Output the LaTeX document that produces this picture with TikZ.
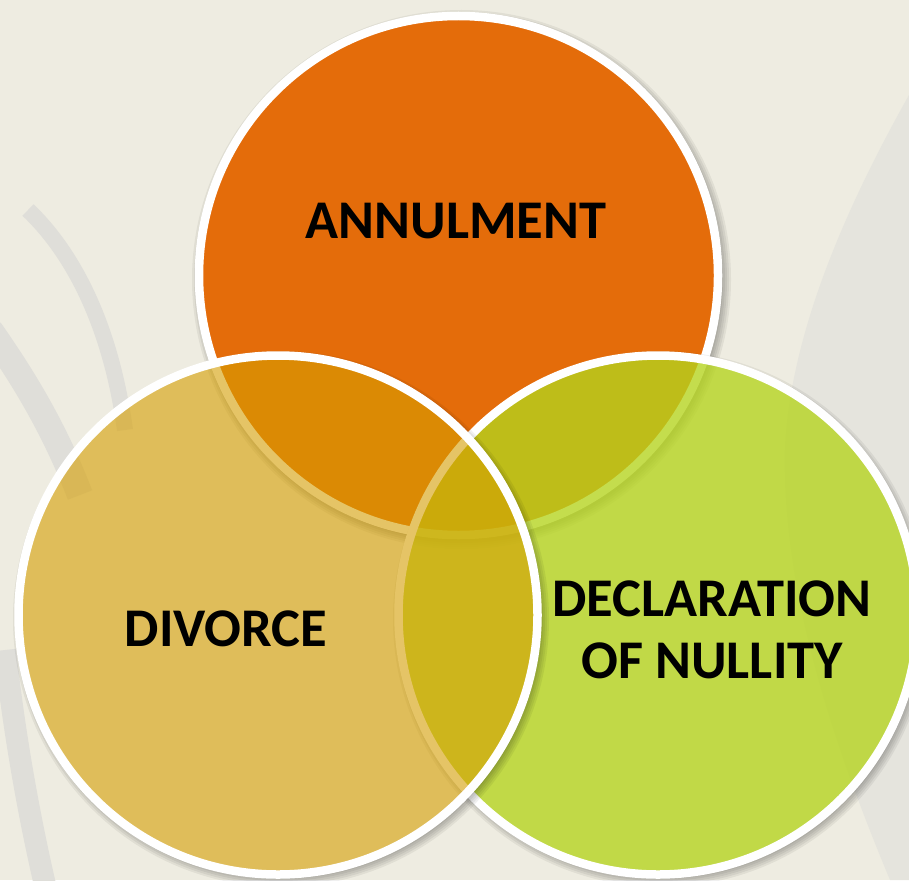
\documentclass[tikz,border=0pt]{standalone}
\usepackage{fontspec}
\setmainfont{Carlito}
\definecolor{bg}{RGB}{238,236,225}
\definecolor{orng}{RGB}{228,108,10}
\definecolor{gold}{RGB}{213,158,0}
\definecolor{lime}{RGB}{181,212,30}
\definecolor{swoosh}{RGB}{223,222,217}
\definecolor{swooshlight}{RGB}{229,228,221}
\newcommand\vennshadow[3]{%
  \begin{scope}[even odd rule]
    \clip (-20,-20) rectangle (930,900) (#1,#2) circle[radius=#3];
    \foreach \k in {-2,0,2,4,6} {\fill[black,opacity=0.06] ({#1+3},{#2+4}) circle[radius={#3+\k}];}
  \end{scope}}
\tikzset{
  venn/.style={circle, draw=white, line width=8.5pt, inner sep=0pt, minimum size=519pt},
  lbl/.style={font=\bfseries\fontsize{54.5}{62}\selectfont, text=black, align=center, inner sep=0pt},
  band/.style={draw=swoosh}
}
\begin{document}
\begin{tikzpicture}[x=1pt,y=-1pt]
\fill[bg] (0,0) rectangle (909,880);
\useasboundingbox (0,0) rectangle (909,880);
% background swooshes
\fill[swooshlight] (909,95) .. controls (850,200) and (790,330) .. (785,450)
   .. controls (782,600) and (840,760) .. (890,880) -- (909,880) -- cycle;
\draw[band, line width=16pt] (28,210) .. controls (70,250) and (110,320) .. (125,430);
\draw[band, line width=26pt] (-10,330) .. controls (25,380) and (55,430) .. (80,495);
\draw[band, line width=22pt] (5,650) .. controls (15,740) and (30,820) .. (45,885);
% circles
\vennshadow{458.5}{275.5}{263.5}
\node[venn, fill=orng] (annul) at (458.5,275.5) {};
\vennshadow{658}{615}{262}
\node[venn, fill=lime, fill opacity=0.79] (nullity) at (658,615) {};
\vennshadow{278}{615}{262}
\node[venn, fill=gold, fill opacity=0.6] (divorce) at (278,615) {};
% labels
\node[lbl] (annult) at (456,221.5) {ANNULMENT};
\node[lbl] (divt) at (226,628.5) {DIVORCE};
\node[lbl] (nullt) at (712,630) {DECLARATION\\OF NULLITY};
\end{tikzpicture}
\end{document}
